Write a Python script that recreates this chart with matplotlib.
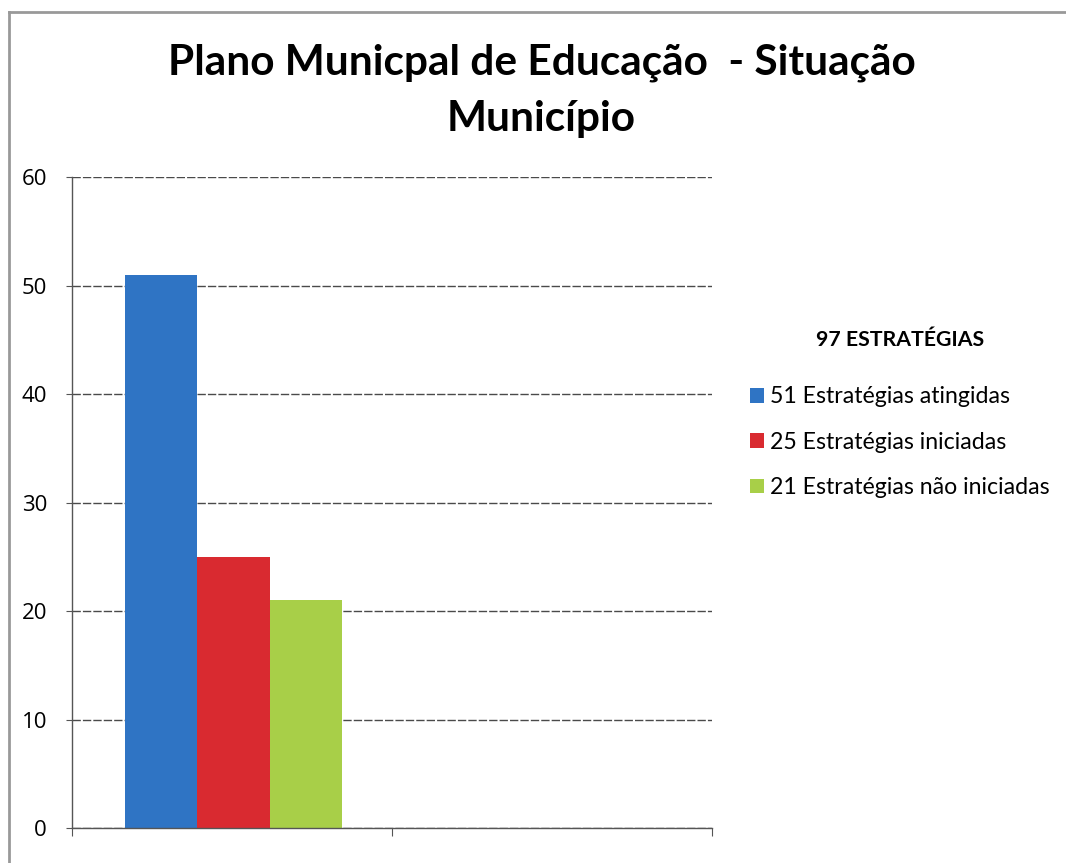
import matplotlib

matplotlib.use("Agg")
import matplotlib.pyplot as plt
from matplotlib.lines import Line2D
from matplotlib.patches import Patch

plt.rcParams["font.family"] = ["Lato", "DejaVu Sans"]

TITLE = "Plano Municpal de Educação  - Situação\nMunicípio"
LEGEND_TITLE = "97 ESTRATÉGIAS"
SERIES = ["51 Estratégias atingidas", "25 Estratégias iniciadas", "21 Estratégias não iniciadas"]
VALUES = [51, 25, 21]
COLORS = ["#2f74c4", "#d92a30", "#a8cf48"]
Y_TICKS = [0, 10, 20, 30, 40, 50, 60]

fig = plt.figure(figsize=(10.66, 8.63), dpi=100)
ax = fig.add_axes([0.0675, 0.0405, 0.6, 0.754])

# three bars clustered in the first of two category slots
width = 0.226
for i, (val, col) in enumerate(zip(VALUES, COLORS)):
    ax.bar(0.005 + (i - 1) * width, val, width=width, color=col, zorder=2, linewidth=0)

ax.set_xlim(-0.5, 1.5)
ax.set_ylim(0, 60)
ax.set_yticks(Y_TICKS)
ax.set_yticklabels([str(t) for t in Y_TICKS], fontsize=16, family=["Open Sans", "DejaVu Sans"])
ax.set_xticks([-0.5, 0.5, 1.5])
ax.set_xticklabels([])
ax.tick_params(axis="x", direction="out", length=6, color="#555555")
ax.tick_params(axis="y", length=4, color="#555555", pad=14)
ax.grid(axis="y", color="#4a4a4a", linewidth=1.0, linestyle=(0, (6, 1.5)), zorder=1)
for side in ("top", "right"):
    ax.spines[side].set_visible(False)
for side in ("left", "bottom"):
    ax.spines[side].set_color("#555555")
    ax.spines[side].set_linewidth(1.0)

fig.text(0.508, 0.8945, TITLE, ha="center", va="center", fontsize=30.5,
         fontweight="bold", linespacing=1.57)

handles = [Patch(facecolor=c, edgecolor="none") for c in COLORS]
leg = fig.legend(handles, SERIES, title=LEGEND_TITLE, loc="center left",
                 bbox_to_anchor=(0.684, 0.52), frameon=False, fontsize=16.7,
                 title_fontproperties={"weight": "bold", "size": 15.3},
                 handlelength=0.6, handleheight=0.6, handletextpad=0.25,
                 labelspacing=1.05)
leg._legend_box.sep = 26

# outer frame of the chart area
fig.add_artist(Line2D([0.0085, 1.0], [0.986, 0.986], color="#999999", linewidth=2))
fig.add_artist(Line2D([0.0085, 0.0085], [0.0, 0.986], color="#999999", linewidth=2))

fig.savefig("out.png", dpi=100)
